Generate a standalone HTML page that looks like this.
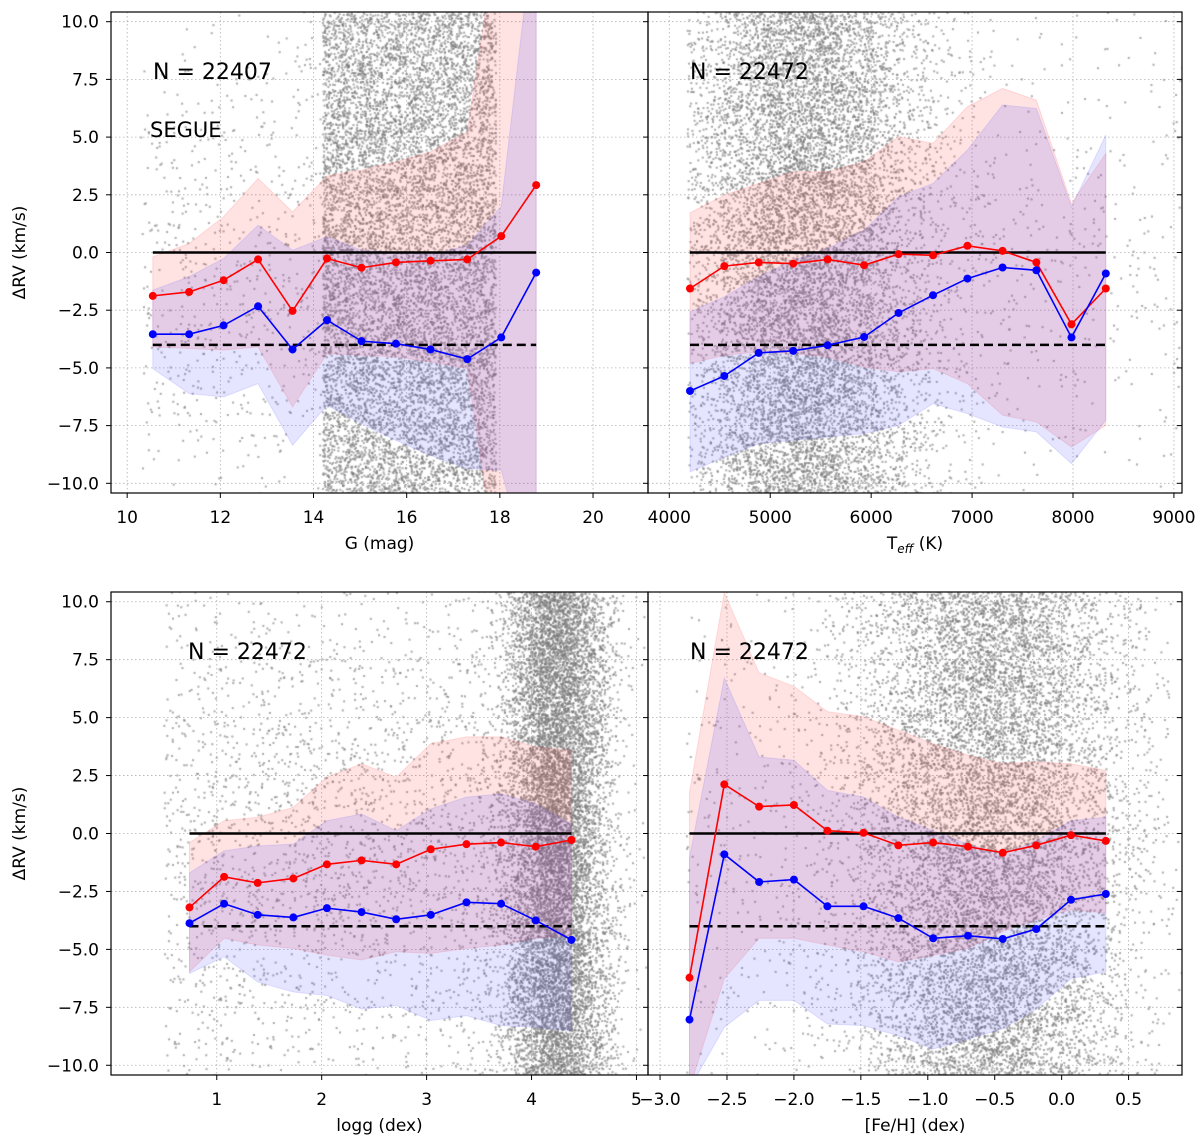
<!DOCTYPE html>
<html><head><meta charset="utf-8"><style>
html,body{margin:0;padding:0;background:#fff;}
#wrap{position:relative;width:1200px;height:1138px;overflow:hidden;}
canvas,svg{position:absolute;left:0;top:0;}
text{font-family:"DejaVu Sans","Liberation Sans",sans-serif;fill:#000;}
</style></head><body>
<div id="wrap">
<canvas id="cv" width="1200" height="1138"></canvas>
<svg id="sv" width="1200" height="1138" xmlns="http://www.w3.org/2000/svg"></svg>
</div>
<script>
// ---- Panel A: G (mag)
const gBins = [10.55,11.33,12.07,12.81,13.55,14.29,15.03,15.77,16.51,17.3,18.03,18.78];
const gRed = [-1.88,-1.71,-1.2,-0.3,-2.53,-0.26,-0.66,-0.43,-0.36,-0.3,0.71,2.92];
const gBlue = [-3.54,-3.54,-3.16,-2.33,-4.2,-2.93,-3.84,-3.95,-4.2,-4.62,-3.68,-0.87];
const gRedHi = [-0.19,0.39,1.55,3.21,1.76,3.31,3.57,3.93,4.36,5.23,15,15];
const gRedLo = [-4.09,-4.16,-4.23,-4.09,-6.69,-4.38,-4.45,-4.52,-4.74,-5.03,-15,-15];
const gBlueHi = [-1.63,-1.05,-0.26,1.18,0.1,0.68,0.1,0.0,-0.1,0.3,2.0,15];
const gBlueLo = [-5.03,-6.11,-6.26,-5.68,-8.35,-6.62,-7.41,-8.14,-8.79,-9.36,-9.43,-15];
const gTicks = ["10","12","14","16","18","20"];
// ---- Panel B: Teff
const tBins = [4205,4545,4886,5228,5569,5930,6272,6613,6954,7302,7637,7985,8325];
const tRed = [-1.56,-0.59,-0.43,-0.48,-0.3,-0.55,-0.07,-0.12,0.29,0.07,-0.43,-3.11,-1.56];
const tBlue = [-6.0,-5.35,-4.35,-4.26,-4.02,-3.66,-2.62,-1.85,-1.13,-0.65,-0.77,-3.68,-0.91];
const tRedHi = [1.72,2.49,2.99,3.5,3.5,3.93,5.02,4.73,6.32,7.11,6.6,2.12,4.29];
const tRedLo = [-4.81,-4.45,-4.31,-4.38,-4.52,-4.96,-5.17,-5.03,-5.68,-7.05,-7.34,-8.43,-7.49];
const tBlueHi = [-2.57,-1.92,-1.05,-0.33,0.17,0.97,2.41,2.99,4.44,6.39,6.24,1.98,5.09];
const tBlueLo = [-9.51,-8.86,-8.28,-8.14,-7.99,-7.85,-7.49,-6.55,-6.98,-7.56,-7.77,-9.15,-7.27];
const tTicks = ["4000","5000","6000","7000","8000","9000"];
// ---- Panel C: logg
const lBins = [0.74,1.07,1.39,1.73,2.05,2.38,2.71,3.04,3.38,3.71,4.04,4.38];
const lRed = [-3.19,-1.87,-2.13,-1.94,-1.33,-1.16,-1.33,-0.68,-0.46,-0.39,-0.57,-0.28];
const lBlue = [-3.87,-3.03,-3.51,-3.62,-3.22,-3.39,-3.7,-3.51,-2.97,-3.03,-3.75,-4.59];
const lRedHi = [-0.39,0.55,0.7,1.13,2.43,3.01,2.43,3.88,4.17,4.17,3.74,3.59];
const lRedLo = [-5.97,-4.52,-4.81,-4.96,-5.25,-5.46,-5.1,-5.17,-4.96,-4.81,-4.52,-4.38];
const lBlueHi = [-1.7,-0.75,-0.54,-0.46,0.55,0.84,0.12,1.06,1.57,1.71,1.28,0.41];
const lBlueLo = [-6.04,-5.32,-6.41,-6.84,-6.99,-7.57,-7.42,-8.07,-7.86,-8.29,-8.36,-8.51];
const lTicks = ["1","2","3","4","5"];
// ---- Panel D: [Fe/H]
const fBins = [-2.78,-2.52,-2.26,-2.0,-1.75,-1.48,-1.22,-0.96,-0.70,-0.44,-0.19,0.07,0.33];
const fRed = [-6.22,2.12,1.16,1.23,0.12,0.03,-0.51,-0.39,-0.57,-0.83,-0.51,-0.07,-0.32];
const fBlue = [-8.03,-0.9,-2.09,-1.99,-3.14,-3.14,-3.65,-4.52,-4.41,-4.55,-4.12,-2.86,-2.61];
const fRedHi = [1.78,10.4,6.93,6.35,5.26,5.04,4.46,3.88,3.38,3.01,3.09,3.01,2.72];
const fRedLo = [-11,-6.26,-4.52,-4.52,-4.81,-5.1,-5.54,-5.25,-4.96,-4.23,-3.72,-3.29,-3.43];
const fBlueHi = [-1.04,6.71,3.3,3.16,1.86,1.57,0.7,0.12,-0.46,-0.9,-0.32,0.55,0.7];
const fBlueLo = [-11,-8.36,-7.2,-7.2,-8.22,-8.29,-8.72,-9.3,-8.87,-8.43,-7.57,-6.26,-5.97];
const fTicks = ["−3.0","−2.5","−2.0","−1.5","−1.0","−0.5","0.0","0.5"];
const yTicks = ["10.0","7.5","5.0","2.5","0.0","−2.5","−5.0","−7.5","−10.0"];
const refZero = 0, refOffset = -4;

const NS="http://www.w3.org/2000/svg";
const svg=document.getElementById('sv');
const ctx=document.getElementById('cv').getContext('2d');
function mk(tag,attrs,parent){const e=document.createElementNS(NS,tag);for(const k in attrs)e.setAttribute(k,attrs[k]);(parent||svg).appendChild(e);return e;}
function num(s){return parseFloat(s.replace('−','-'));}

const panels=[
 {id:'g',x0:111,x1:648,y0:12,y1:493,xmin:9.653,xmax:21.18,bins:gBins,red:gRed,blue:gBlue,rh:gRedHi,rl:gRedLo,bh:gBlueHi,bl:gBlueLo,ticks:gTicks,xl:'G (mag)',N:'N = 22407',extra:'SEGUE',ylab:true},
 {id:'teff',x0:648,x1:1182,y0:12,y1:493,xmin:3789,xmax:9080,bins:tBins,red:tRed,blue:tBlue,rh:tRedHi,rl:tRedLo,bh:tBlueHi,bl:tBlueLo,ticks:tTicks,xl:'teff',N:'N = 22472',ylab:false},
 {id:'logg',x0:111,x1:648,y0:592,y1:1075,xmin:-0.008,xmax:5.11,bins:lBins,red:lRed,blue:lBlue,rh:lRedHi,rl:lRedLo,bh:lBlueHi,bl:lBlueLo,ticks:lTicks,xl:'logg (dex)',N:'N = 22472',ylab:true},
 {id:'feh',x0:648,x1:1182,y0:592,y1:1075,xmin:-3.09,xmax:0.899,bins:fBins,red:fRed,blue:fBlue,rh:fRedHi,rl:fRedLo,bh:fBlueHi,bl:fBlueLo,ticks:fTicks,xl:'[Fe/H] (dex)',N:'N = 22472',ylab:false}
];
const ymin=-10.42,ymax=10.42;

// deterministic texture generator for background star cloud
let seed=12345;
function rnd(){seed=(seed*1664525+1013904223)%4294967296;return seed/4294967296;}
function gauss(){let u=rnd()||1e-9,v=rnd();return Math.sqrt(-2*Math.log(u))*Math.cos(2*Math.PI*v);}
function gclip(m,s,lo){let v;do{v=m+gauss()*s;}while(v<lo);return v;}
const cloud={
 g:()=>{const r=rnd();if(r<0.94)return [14.2+rnd()*3.72,-11+rnd()*22];return [10.3+rnd()*4,gauss()*6-1];},
 teff:()=>{const r=rnd();if(r<0.93)return [gclip(5350,600,4180),-11+rnd()*22];return [4200+rnd()*4900,gauss()*6];},
 logg:()=>{const r=rnd();if(r<0.8)return [4.25+gauss()*0.25,-11+rnd()*22];return [0.5+rnd()*3.6,gauss()*6.5];},
 feh:()=>{const r=rnd();if(r<0.93)return [-0.55+gauss()*0.5,-11+rnd()*22];return [-2.8+rnd()*3.6,gauss()*6];}
};

panels.forEach((p,pi)=>{
 const sx=v=>p.x0+(v-p.xmin)/(p.xmax-p.xmin)*(p.x1-p.x0);
 const sy=v=>p.y1-(v-ymin)/(ymax-ymin)*(p.y1-p.y0);
 const g=mk('g',{});
 
 
 const cid='clip'+pi;
 const cp=mk('clipPath',{id:cid},g);mk('rect',{x:p.x0,y:p.y0,width:p.x1-p.x0,height:p.y1-p.y0},cp);
 const xt=p.ticks.map(num);
 xt.forEach(v=>{const x=sx(v);if(x>=p.x0&&x<=p.x1){const l=mk('line',{x1:x,x2:x,y1:p.y0,y2:p.y1,stroke:'#b0b0b0','stroke-width':0.8,'stroke-dasharray':'1.5,2.5'},g);}});
 yTicks.map(num).forEach(v=>{const y=sy(v);const l=mk('line',{x1:p.x0,x2:p.x1,y1:y,y2:y,stroke:'#b0b0b0','stroke-width':0.8,'stroke-dasharray':'1.5,2.5'},g);});
 ctx.save();ctx.beginPath();ctx.rect(p.x0,p.y0,p.x1-p.x0,p.y1-p.y0);ctx.clip();
 ctx.fillStyle='rgba(125,125,125,0.65)';
 const n=p.id==='g'?12000:(p.id==='logg'?15000:13000);
 for(let i=0;i<n;i++){const [a,b]=cloud[p.id]();ctx.fillRect(sx(a)-1,sy(b)-1,2,2);}
 ctx.restore();
 const band=(hi,lo,col,name)=>{let pts=p.bins.map((b,i)=>sx(b)+','+sy(hi[i]));for(let i=p.bins.length-1;i>=0;i--)pts.push(sx(p.bins[i])+','+sy(lo[i]));const e=mk('polygon',{points:pts.join(' '),fill:col,stroke:col,'stroke-width':1,'clip-path':'url(#'+cid+')'},g);};
 band(p.rh,p.rl,'rgba(255,60,60,0.15)','red-band');
 band(p.bh,p.bl,'rgba(70,70,255,0.14)','blue-band');
 const xa=sx(p.bins[0]),xb=sx(p.bins[p.bins.length-1]);
 const z=mk('line',{x1:xa,x2:xb,y1:sy(refZero),y2:sy(refZero),stroke:'#000','stroke-width':2.5},g);
 
 const d=mk('line',{x1:xa,x2:xb,y1:sy(refOffset),y2:sy(refOffset),stroke:'#000','stroke-width':2.5,'stroke-dasharray':'9,5'},g);
 
 const series=(vals,col,name)=>{const pl=mk('polyline',{points:p.bins.map((b,i)=>sx(b)+','+sy(vals[i])).join(' '),fill:'none',stroke:col,'stroke-width':1.6,'clip-path':'url(#'+cid+')'},g);
  p.bins.forEach((b,i)=>{const c=mk('circle',{cx:sx(b),cy:sy(vals[i]),r:4,fill:col,'clip-path':'url(#'+cid+')'},g);});};
 series(p.red,'#ff0000','red-series');
 series(p.blue,'#0000ff','blue-series');
 const fr=mk('rect',{x:p.x0,y:p.y0,width:p.x1-p.x0,height:p.y1-p.y0,fill:'none',stroke:'#000','stroke-width':1.2},g);
 
 p.ticks.forEach((t,i)=>{const x=sx(xt[i]);if(x<p.x0-1||x>p.x1+1)return;mk('line',{x1:x,x2:x,y1:p.y1,y2:p.y1+5,stroke:'#000','stroke-width':1},g);
  const tx=mk('text',{x:x,y:p.y1+30,'font-size':17,'text-anchor':'middle'},g);tx.textContent=t;});
 yTicks.forEach(t=>{const y=sy(num(t));
  if(p.ylab){mk('line',{x1:p.x0-5,x2:p.x0,y1:y,y2:y,stroke:'#000','stroke-width':1},g);
   const tx=mk('text',{x:p.x0-12,y:y+6,'font-size':17,'text-anchor':'end'},g);tx.textContent=t;}
  mk('line',{x1:p.x1-5,x2:p.x1,y1:y,y2:y,stroke:'#000','stroke-width':1},g);
 });
 const xc=(p.x0+p.x1)/2, xy=p.y1+56;
 const xl=mk('text',{x:xc,y:xy,'font-size':17,'text-anchor':'middle'},g);
 if(p.xl==='teff'){xl.textContent='T';const s=mk('tspan',{'font-size':12,dy:4,'font-style':'italic'},xl);s.textContent='eff';const s2=mk('tspan',{dy:-4},xl);s2.textContent=' (K)';}
 else xl.textContent=p.xl;
 
 if(p.ylab){const yl=mk('text',{x:0,y:0,'font-size':17,'text-anchor':'middle',transform:'translate(25,'+((p.y0+p.y1)/2)+') rotate(-90)'},g);yl.textContent='ΔRV (km/s)';}
 const nt=mk('text',{x:p.x0+(p.id==='logg'?77:42),y:p.y0+67,'font-size':22},g);nt.textContent=p.N;
 if(p.extra){const et=mk('text',{x:p.x0+39,y:p.y0+125,'font-size':21},g);et.textContent=p.extra;}
});
</script>
</body></html>
